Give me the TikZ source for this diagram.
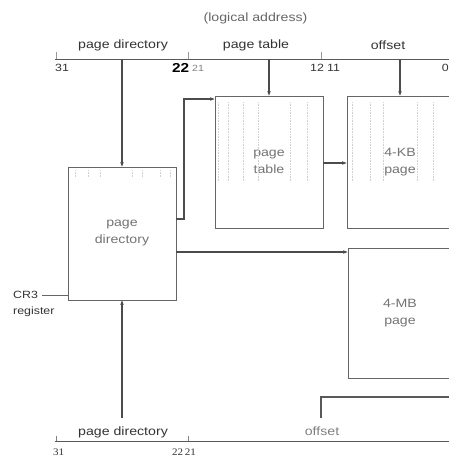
\documentclass[tikz,border=0pt]{standalone}
\usepackage{fontspec}
\setmainfont{Liberation Sans}[FakeStretch=1.18]
\newfontfamily\serifdig{Liberation Serif}[FakeStretch=1.1]
\usetikzlibrary{arrows.meta,positioning,calc}
\tikzset{
  membox/.style={rectangle,draw=black!60,line width=.8pt,inner sep=1pt,align=center,
    text=black!55,font=\fontsize{12}{17}\selectfont},
  fieldlab/.style={font=\fontsize{12}{14}\selectfont,text=black!80,inner sep=1pt},
  bitlab/.style={font=\fontsize{10.5}{12}\selectfont,text=black!80,inner sep=0pt,anchor=west},
  sidelab/.style={font=\fontsize{10.5}{12}\selectfont,text=black!80,inner sep=0pt,anchor=west},
  conn/.style={line width=1.3pt,black!70,-{Stealth[length=4.5pt,width=3.5pt]}},
  bar/.style={line width=.8pt,black!65},
  scanline/.style={black!18,densely dotted,line width=.6pt}
}
\begin{document}
\begin{tikzpicture}[x=1pt,y=-1pt]
  \useasboundingbox (0,0) rectangle (449,456);

  % logical address, 32-bit layout
  \node[fieldlab,text=black!60] (title) at (255.5,18) {(logical address)};
  \node[fieldlab] (fdir) at (123,45) {page directory};
  \node[fieldlab] (ftab) at (256,45) {page table};
  \node[fieldlab] (foff) at (388,45) {offset};
  \draw[bar] (55,59) -- (455,59);
  \foreach \x in {56,188,321}
    \draw[bar,black!40] (\x,52) -- (\x,59);
  \node[bitlab] (b31) at (55,68) {31};
  \node[bitlab,font=\fontsize{13}{14}\bfseries,text=black] (b22) at (172,68) {22};
  \node[bitlab,font=\fontsize{9}{10}\selectfont,text=black!50] (b21) at (192,68) {21};
  \node[bitlab] (b12) at (310,68) {12};
  \node[bitlab] (b11) at (327,68) {11};
  \node[bitlab,anchor=east] (b0) at (449,68) {0};

  % tables and pages
  \node[membox,minimum width=108pt,minimum height=133pt] (pdir) at (122,233.5) {page\\directory};
  \node[membox,minimum width=108pt,minimum height=132pt] (ptab) at (269,162) {page\\table};
  \node[membox,minimum width=106pt,minimum height=132pt] (kbpage) at (400,162) {4-KB\\page};
  \node[membox,minimum width=104pt,minimum height=130pt] (mbpage) at (400,313) {4-MB\\page};

  % faint entry columns
  \foreach \x in {218,228,243,258,290,307}
    \draw[scanline] (\x,102) -- (\x,182);
  \foreach \x in {352,370,383,417,433}
    \draw[scanline] (\x,102) -- (\x,182);
  \foreach \x in {75,88,100,132,142,160,170}
    \draw[scanline] (\x,170) -- (\x,178);

  % translation paths
  \draw[conn] (pdir.north |- 0,59) -- (pdir.north);
  \draw[conn] (ptab.north |- 0,59) -- (ptab.north);
  \draw[conn] (kbpage.north |- 0,59) -- (kbpage.north);
  \draw[conn] (pdir.east |- 0,219) -- (184,219) |- (ptab.west |- 0,99);
  \draw[conn] (ptab.east |- 0,163) -- (kbpage.west |- 0,163);
  \draw[conn,line width=2pt] (pdir.east |- 0,252) -- (mbpage.west |- 0,252);

  % CR3
  \node[sidelab] (cr3) at (13,295) {CR3};
  \node[sidelab] (reg) at (13,312) {register};
  \draw[line width=1pt,black!60] ($(cr3.east)+(4,0)$) -- (pdir.west |- cr3);

  % 4-MB logical address
  \node[fieldlab,anchor=south] (bdir) at (123,439) {page directory};
  \node[fieldlab,anchor=south,text=black!50] (boff) at (322,437) {offset};
  \draw[bar] (55,441) -- (455,441);
  \foreach \x in {56,188}
    \draw[bar,black!50] (\x,436) -- (\x,441);
  \node[bitlab,font=\fontsize{10}{12}\serifdig] (c31) at (53,452) {31};
  \node[bitlab,font=\fontsize{10}{12}\serifdig] (c22) at (172,452) {22\,21};
  \coordinate (pdup) at (122,418);
  \draw[conn] (pdup) -- (pdir.south);
  \coordinate (offup) at (321,418);
  \coordinate (offend) at (455,397);
  \draw[line width=1.3pt,black!65] (offup) |- (offend);
\end{tikzpicture}
\end{document}
